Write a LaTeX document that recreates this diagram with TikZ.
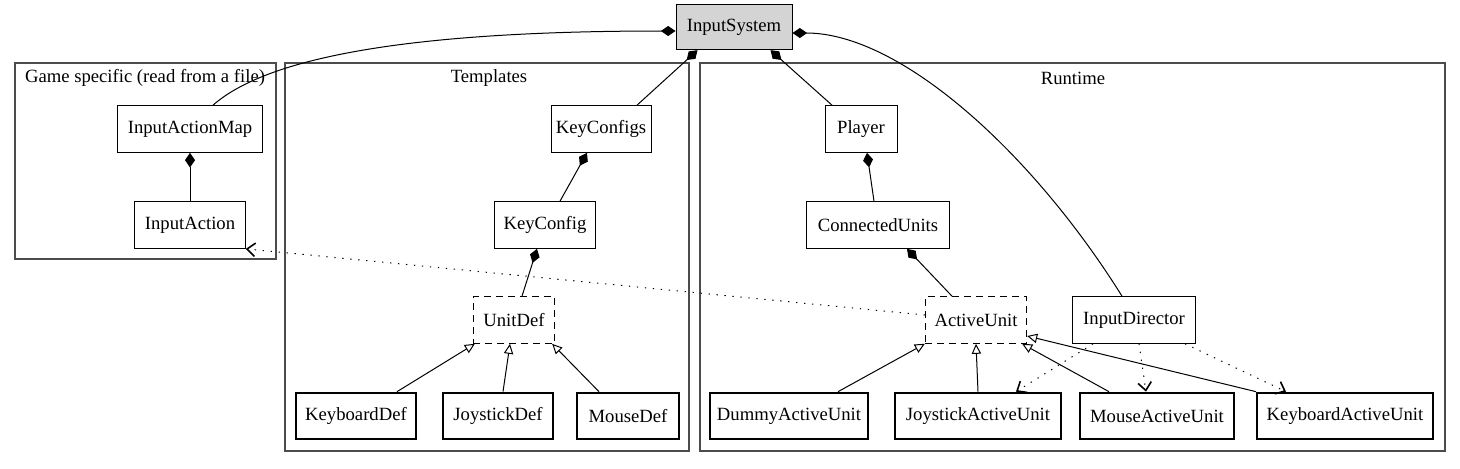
\documentclass[tikz,border=0pt]{standalone}
\usepackage{fontspec}
\setmainfont{LiberationSerif-Regular.ttf}
\newfontfamily\umlfont{LiberationSerif-Regular.ttf}
\usetikzlibrary{arrows.meta,calc}
\def\gamecluster{(15,63) rectangle (276,259)}
\def\templatecluster{(285,63) rectangle (689,451)}
\def\runtimecluster{(700,63) rectangle (1445,451)}
\colorlet{cluster edge}{black!70}
\colorlet{system area}{black!17}
\tikzset{umltext/.style={font=\umlfont\fontsize{14}{16}\selectfont},
	cls/.style={draw, minimum height=35pt, inner sep=2pt, umltext},
	abstract/.style={cls, dash pattern=on 5pt off 4pt},
	concrete/.style={cls, line width=1.5pt},
	cluster/.style={draw=cluster edge, line width=1pt},
	composed/.style={{Diamond[length=11pt,width=7.5pt]}-},
	derives/.style={-{Triangle[open,length=7.5pt,width=7pt]}},
	uses/.style={dash pattern=on 1pt off 5pt, -{Straight Barb[length=6pt,width=10pt,line width=1.2pt]}}}

\begin{document}
\begin{tikzpicture}[x=0.75pt, y=-0.75pt, line width=0.75pt]
		\useasboundingbox (0,0) rectangle (1460,468);
		\draw[cluster] \gamecluster;
		\draw[cluster] \templatecluster;
		\draw[cluster] \runtimecluster;
		\node[umltext] (gamelabel) at (145,78) {Game specific (read from a file)};
		\node[umltext] (templatelabel) at (489,78) {Templates};
		\node[umltext] (runtimelabel) at (1073,78) {Runtime};
		
		\node[cls, fill=system area, minimum width=87pt, minimum height=34pt] (sys) at (734,27) {InputSystem};
		% game specific
		\node[cls, minimum width=109pt] (iam) at (190,129) {InputActionMap};
		\node[cls, minimum width=83pt] (ia) at (190,225) {InputAction};
		% templates
		\node[cls, minimum width=75pt] (kcs) at (601,129) {KeyConfigs};
		\node[cls, minimum width=76pt] (kc) at (545,225) {KeyConfig};
		\node[abstract, minimum width=61pt] (ud) at (514,320) {UnitDef};
		\node[concrete, minimum width=90pt] (kbd) at (356,416) {KeyboardDef};
		\node[concrete, minimum width=82pt] (jsd) at (498,416) {JoystickDef};
		\node[concrete, minimum width=76pt] (msd) at (628,416) {MouseDef};
		% runtime
		\node[cls, minimum width=54pt] (pl) at (861,129) {Player};
		\node[cls, minimum width=107pt] (cu) at (878,225) {ConnectedUnits};
		\node[abstract, minimum width=76pt] (au) at (976,320) {ActiveUnit};
		\node[cls, minimum width=92pt] (dir) at (1134,320) {InputDirector};
		\node[concrete, minimum width=118pt] (dau) at (789,416) {DummyActiveUnit};
		\node[concrete, minimum width=124pt] (jau) at (978,416) {JoystickActiveUnit};
		\node[concrete, minimum width=115pt] (mau) at (1157,416) {MouseActiveUnit};
		\node[concrete, minimum width=132pt] (kau) at (1345,416) {KeyboardActiveUnit};
		
		\draw[composed] ($(sys.west)+(0,4)$) .. controls (420,31) and (270,55) .. ($(iam.north)+(23,0)$);
		\draw[composed] ($(sys.east)+(0,6)$) .. controls (900,33) and (1032,152) .. ($(dir.north)+(-12,0)$);
		\draw[composed] ($(sys.south west)+(22,0)$) -- ($(kcs.north)+(36,0)$);
		\draw[composed] ($(sys.south east)+(-22,0)$) -- ($(pl.north)+(-29,0)$);
		\draw[composed] (iam) -- (ia);
		\draw[composed] ($(kcs.south)+(-14,0)$) -- ($(kc.north)+(15,0)$);
		\draw[composed] ($(kc.south)+(-8,0)$) -- ($(ud.north)+(8,0)$);
		\draw[composed] ($(pl.south)+(6,0)$) -- ($(cu.north)+(-4,0)$);
		\draw[composed] ($(cu.south)+(29,0)$) -- ($(au.north)+(-24,0)$);
		
		\draw[derives] ($(kbd.north)+(41,0)$) -- ($(ud.south west)+(2,0)$);
		\draw[derives] ($(jsd.north)+(5,0)$) -- ($(ud.south)+(-4,0)$);
		\draw[derives] ($(msd.north)+(-29,0)$) -- ($(ud.south east)+(-3,0)$);
		\draw[derives] ($(dau.north)+(49,0)$) -- (au.south west);
		\draw[derives] (jau.north) -- (au.south);
		\draw[derives] ($(mau.north)+(-48,0)$) -- ($(au.south east)+(-5,0)$);
		\draw[derives] (kau.north west) -- ($(au.east)+(0,16)$);
		
		\draw[uses] ($(au.west)+(0,-5)$) -- (ia.south east);
		\draw[uses] ($(dir.south)+(-41,0)$) -- ($(jau.north)+(38,0)$);
		\draw[uses] ($(dir.south)+(5,0)$) -- ($(mau.north)+(-11,0)$);
		\draw[uses] ($(dir.south)+(51,0)$) -- ($(kau.north)+(-59,0)$);
		\end{tikzpicture}
\end{document}
